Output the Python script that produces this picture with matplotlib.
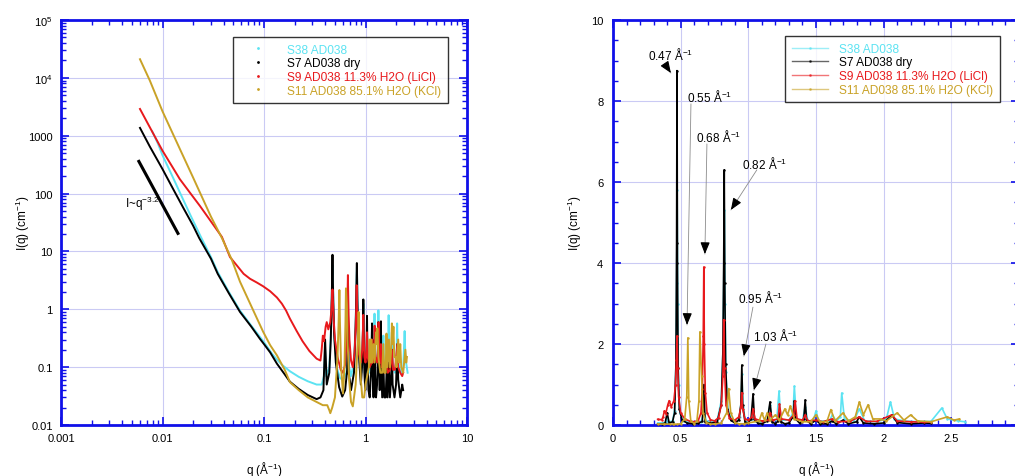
import numpy as np
import matplotlib
matplotlib.use("Agg")
import matplotlib.pyplot as plt
from matplotlib.lines import Line2D
from matplotlib.ticker import FixedLocator, MultipleLocator, LogLocator, NullFormatter

plt.rcParams['font.family'] = ['Liberation Sans', 'DejaVu Sans']
plt.rcParams['mathtext.fontset'] = 'custom'
plt.rcParams['mathtext.rm'] = 'Liberation Sans'
plt.rcParams['mathtext.it'] = 'Liberation Sans:italic'

# ---------------- data ----------------
labels = ["S38 AD038", "S7 AD038 dry", "S9 AD038 11.3% H2O (LiCl)", "S11 AD038 85.1% H2O (KCl)"]
colors = ["#5CE3F2", "#000000", "#E8191C", "#C9A227"]

q_s38 = [0.0079, 0.009, 0.01, 0.0125, 0.015, 0.019, 0.024, 0.03, 0.035, 0.045, 0.058, 0.075, 0.1, 0.12,
         0.134, 0.15, 0.18, 0.22, 0.27, 0.33, 0.37, 0.39, 0.40, 0.41, 0.44, 0.455, 0.465, 0.47, 0.474,
         0.478, 0.484, 0.495, 0.52, 0.56, 0.6, 0.65, 0.675, 0.69, 0.72, 0.77, 0.80, 0.812, 0.818, 0.823,
         0.828, 0.834, 0.85, 0.88, 0.91, 0.935, 0.947, 0.953, 0.96, 0.98, 1.0, 1.025, 1.035, 1.05, 1.09,
         1.14, 1.16, 1.175, 1.21, 1.227, 1.24, 1.3, 1.33, 1.34, 1.355, 1.4, 1.42, 1.44, 1.48, 1.5, 1.52,
         1.6, 1.62, 1.65, 1.68, 1.69, 1.71, 1.78, 1.82, 1.86, 1.95, 2.02, 2.05, 2.08, 2.15, 2.25, 2.35,
         2.43, 2.47, 2.55, 2.6]
I_s38 = [1200, 735, 460, 200, 100, 41, 17.5, 8.0, 4.4, 2.0, 0.95, 0.52, 0.27, 0.17,
         0.135, 0.11, 0.085, 0.068, 0.057, 0.05, 0.05, 0.07, 0.2, 0.07, 0.1, 0.35, 1.5, 3.5, 5.8,
         3.0, 1.0, 0.3, 0.1, 0.065, 0.06, 0.08, 0.3, 0.1, 0.07, 0.12, 0.6, 1.8, 3.5, 5.3,
         3.0, 1.3, 0.35, 0.12, 0.08, 0.2, 0.6, 1.25, 0.45, 0.1, 0.08, 0.15, 0.35, 0.1, 0.08,
         0.12, 0.5, 0.1, 0.12, 0.84, 0.12, 0.12, 0.3, 0.96, 0.15, 0.12, 0.45, 0.1, 0.1, 0.35, 0.1,
         0.1, 0.25, 0.1, 0.2, 0.79, 0.15, 0.1, 0.4, 0.1, 0.08, 0.15, 0.57, 0.15, 0.1, 0.08, 0.09,
         0.42, 0.15, 0.1, 0.08]

q_s7 = [0.006, 0.0075, 0.01, 0.013, 0.016, 0.02, 0.023, 0.03, 0.035, 0.045, 0.058, 0.075, 0.091, 0.1,
        0.115, 0.134, 0.16, 0.18, 0.22, 0.27, 0.33, 0.36, 0.385, 0.40, 0.415, 0.44, 0.455, 0.465, 0.47,
        0.473, 0.476, 0.481, 0.49, 0.51, 0.55, 0.59, 0.63, 0.66, 0.672, 0.68, 0.70, 0.72, 0.77, 0.80,
        0.812, 0.818, 0.822, 0.826, 0.832, 0.845, 0.87, 0.9, 0.93, 0.945, 0.952, 0.958, 0.975, 0.995,
        1.02, 1.035, 1.045, 1.07, 1.1, 1.14, 1.16, 1.175, 1.2, 1.22, 1.23, 1.24, 1.27, 1.30, 1.33, 1.34,
        1.35, 1.38, 1.41, 1.42, 1.43, 1.46, 1.5, 1.53, 1.58, 1.62, 1.65, 1.7, 1.74, 1.8, 1.82, 1.85,
        1.93, 2.0, 2.06, 2.1, 2.2, 2.3, 2.35]
I_s7 = [1365, 650, 265, 112, 57, 28, 17, 7.5, 4.1, 1.9, 0.9, 0.5, 0.31, 0.25,
        0.18, 0.115, 0.075, 0.056, 0.042, 0.033, 0.028, 0.03, 0.04, 0.3, 0.05, 0.08, 0.3, 1.5, 4.5,
        8.75, 4.0, 1.4, 0.4, 0.12, 0.045, 0.031, 0.04, 0.09, 1.0, 0.08, 0.06, 0.04, 0.08, 0.5,
        1.8, 4.0, 6.3, 3.5, 1.5, 0.4, 0.12, 0.05, 0.12, 0.5, 1.48, 0.5, 0.08, 0.04,
        0.15, 0.77, 0.15, 0.04, 0.03, 0.1, 0.57, 0.08, 0.03, 0.1, 0.3, 0.08, 0.03, 0.05, 0.2, 0.6,
        0.15, 0.04, 0.15, 0.62, 0.12, 0.03, 0.12, 0.03, 0.03, 0.1, 0.03, 0.12, 0.03, 0.08, 0.2, 0.05,
        0.03, 0.05, 0.25, 0.06, 0.03, 0.05, 0.04]

q_s9 = [0.006, 0.0075, 0.01, 0.0125, 0.0148, 0.019, 0.0234, 0.03, 0.0385, 0.0462, 0.055, 0.063,
        0.0728, 0.085, 0.098, 0.115, 0.134, 0.15, 0.165, 0.18, 0.21, 0.24, 0.28, 0.33, 0.36, 0.37,
        0.38, 0.39, 0.405, 0.415, 0.43,
        0.45, 0.462, 0.468, 0.473, 0.478, 0.485, 0.5, 0.53, 0.57, 0.6, 0.63, 0.65, 0.66, 0.667, 0.671,
        0.675, 0.682, 0.695, 0.72, 0.75, 0.78, 0.8, 0.812, 0.818, 0.824, 0.835, 0.86, 0.9, 0.93, 0.945,
        0.951, 0.958, 0.975, 1.0, 1.025, 1.035, 1.05, 1.1, 1.15, 1.16, 1.18, 1.22, 1.23, 1.245, 1.3,
        1.335, 1.345, 1.36, 1.4, 1.42, 1.44, 1.5, 1.55, 1.62, 1.66, 1.75, 1.82, 1.87, 1.95, 2.06, 2.1,
        2.2, 2.3, 2.35]
I_s9 = [2900, 1400, 550, 290, 178, 99, 61, 33, 17.8, 8.0, 5.5, 4.1,
        3.37, 2.9, 2.5, 2.05, 1.6, 1.25, 0.95, 0.69, 0.42, 0.28, 0.19, 0.14, 0.13, 0.2,
        0.35, 0.28, 0.5, 0.6, 0.45,
        0.6, 1.0, 1.6, 2.2, 1.4, 0.7, 0.3, 0.15, 0.09, 0.08, 0.11, 0.3, 0.9, 2.2, 3.9,
        2.0, 0.8, 0.3, 0.13, 0.1, 0.18, 0.5, 1.2, 2.6, 1.4, 0.5, 0.17, 0.12, 0.2, 0.45,
        0.8, 0.4, 0.15, 0.12, 0.2, 0.4, 0.15, 0.1, 0.12, 0.3, 0.12, 0.15, 0.52, 0.15, 0.12,
        0.25, 0.6, 0.15, 0.12, 0.25, 0.1, 0.12, 0.08, 0.15, 0.08, 0.09, 0.2, 0.09, 0.09, 0.25, 0.1,
        0.08, 0.07, 0.08]

q_s11 = [0.006, 0.0075, 0.01, 0.015, 0.02, 0.03, 0.0385, 0.048, 0.058, 0.075, 0.098, 0.115, 0.134, 0.16,
         0.18, 0.22, 0.27, 0.33, 0.38, 0.42, 0.44, 0.45, 0.47, 0.5, 0.53, 0.545, 0.553, 0.56, 0.575, 0.6,
         0.62, 0.635, 0.642, 0.655, 0.665, 0.69, 0.72, 0.75, 0.8, 0.84, 0.855, 0.87, 0.9, 0.93, 0.97,
         1.0, 1.08, 1.1, 1.12, 1.14, 1.16, 1.2, 1.23, 1.27, 1.29, 1.31, 1.34, 1.4, 1.46, 1.5, 1.53, 1.58,
         1.61, 1.64, 1.7, 1.74, 1.79, 1.82, 1.85, 1.885, 1.92, 1.97, 2.02, 2.1, 2.15, 2.2, 2.25, 2.35,
         2.47, 2.52, 2.56]
I_s11 = [21000, 9000, 2640, 565, 190, 40, 17, 7.3, 3.0, 1.13, 0.41, 0.24, 0.16, 0.09,
         0.055, 0.04, 0.03, 0.025, 0.022, 0.022, 0.018, 0.016, 0.02, 0.03, 0.15, 0.7, 2.15, 0.6, 0.1, 0.035,
         0.1, 0.6, 2.3, 1.2, 0.3, 0.06, 0.025, 0.021, 0.05, 0.3, 0.9, 0.3, 0.06, 0.03, 0.03,
         0.05, 0.1, 0.3, 0.12, 0.3, 0.12, 0.25, 0.12, 0.4, 0.25, 0.47, 0.15, 0.08, 0.08, 0.25, 0.08, 0.08,
         0.38, 0.1, 0.3, 0.1, 0.2, 0.57, 0.25, 0.5, 0.15, 0.15, 0.1, 0.3, 0.12, 0.25, 0.1, 0.08,
         0.2, 0.12, 0.15]

# power-law guide line I ~ q^-3.2
q_guide = [0.00585, 0.0142]
I_guide = [360, 20.5]

# the linear (WAXS) panel shows only the wide-angle part of each curve
q_min_linear = 0.3

series_q = [q_s38, q_s7, q_s9, q_s11]
series_I = [I_s38, I_s7, I_s9, I_s11]

left_yticks = [0.01, 0.1, 1, 10, 100, 1000, 1e4, 1e5]
left_ytlabels = ['0.01', '0.1', '1', '10', '100', '1000', '10$^4$', '10$^5$']
left_xticks = [0.001, 0.01, 0.1, 1, 10]
left_xtlabels = ['0.001', '0.01', '0.1', '1', '10']
right_xticks = [0, 0.5, 1, 1.5, 2, 2.5]
right_xtlabels = ['0', '0.5', '1', '1.5', '2', '2.5']
right_yticks = [0, 2, 4, 6, 8, 10]

peak_labels = ['0.47 Å$^{-1}$', '0.55 Å$^{-1}$', '0.68 Å$^{-1}$', '0.82 Å$^{-1}$',
               '0.95 Å$^{-1}$', '1.03 Å$^{-1}$']

# ---------------- figure ----------------
W, H = 1015, 477
fig = plt.figure(figsize=(W / 100, H / 100), dpi=100)
axL = fig.add_axes([61 / W, 1 - 426 / H, 406 / W, 405 / H])
axR = fig.add_axes([613 / W, 1 - 426 / H, 406 / W, 405 / H])

blue = '#1010E8'
gridc = '#CACAF4'

def style(ax):
    for s in ax.spines.values():
        s.set_color(blue)
        s.set_linewidth(2.0)
    ax.tick_params(which='both', direction='in', top=True, right=True, color=blue,
                   labelsize=8, labelcolor='black')
    ax.tick_params(which='major', length=6, width=1.2)
    ax.tick_params(which='minor', length=3.5, width=1.0)
    ax.grid(True, which='major', color=gridc, lw=0.8)
    ax.set_axisbelow(True)

# ---- left: log-log ----
for q, I, c in zip(series_q, series_I, colors):
    axL.plot(q, I, color=c, lw=1.4, zorder=3)
axL.plot(q_guide, I_guide, color='black', lw=2.2, zorder=4)
axL.text(0.0043, 69, 'I~q$^{-3.2}$', fontsize=8.5, ha='left', va='center')
axL.set_xscale('log')
axL.set_yscale('log')
axL.set_xlim(0.001, 10)
axL.set_ylim(0.01, 1e5)
axL.xaxis.set_major_locator(FixedLocator(left_xticks))
axL.set_xticklabels(left_xtlabels)
axL.yaxis.set_major_locator(FixedLocator(left_yticks))
axL.set_yticklabels(left_ytlabels)
axL.xaxis.set_minor_locator(LogLocator(base=10, subs=np.arange(2, 10), numticks=20))
axL.yaxis.set_minor_locator(LogLocator(base=10, subs=np.arange(2, 10), numticks=20))
axL.xaxis.set_minor_formatter(NullFormatter())
axL.yaxis.set_minor_formatter(NullFormatter())
style(axL)
axL.tick_params(axis='x', pad=6)
axL.tick_params(axis='y', pad=6)
axL.set_xlabel('q (Å$^{-1}$)', fontsize=8.5, labelpad=11)
axL.set_ylabel('I(q) (cm$^{-1}$)', fontsize=8.5, labelpad=-3)

handlesL = [Line2D([], [], ls='none', marker='.', ms=2, color=c) for c in colors]
legL = axL.legend(handlesL, labels, loc='upper left', bbox_to_anchor=(0.424, 0.958),
                  fontsize=8.6, frameon=True, fancybox=False, edgecolor='black',
                  handlelength=3.0, handletextpad=1.0, labelspacing=0.14, borderpad=0.55,
                  borderaxespad=0)
legL.get_frame().set_linewidth(1.0)
for t, c in zip(legL.get_texts(), colors):
    t.set_color(c)

# ---- right: linear ----
for q, I, c in zip(series_q, series_I, colors):
    qq = [a for a in q if a >= q_min_linear]
    II = [b for a, b in zip(q, I) if a >= q_min_linear]
    axR.plot(qq, II, color=c, lw=1.2, marker='.', ms=1.5, zorder=3)
axR.set_xlim(0, 3)
axR.set_ylim(0, 10)
axR.xaxis.set_major_locator(FixedLocator(right_xticks))
axR.set_xticklabels(right_xtlabels)
axR.yaxis.set_major_locator(FixedLocator(right_yticks))
axR.xaxis.set_minor_locator(MultipleLocator(0.1))
axR.yaxis.set_minor_locator(MultipleLocator(0.5))
style(axR)
axR.tick_params(axis='x', pad=6)
axR.tick_params(axis='y', pad=7)
axR.set_xlabel('q (Å$^{-1}$)', fontsize=8.5, labelpad=11)
axR.set_ylabel('I(q) (cm$^{-1}$)', fontsize=8.5, labelpad=5)

handlesR = [Line2D([], [], lw=1.0, marker='.', ms=2, color=c) for c in colors]
legR = axR.legend(handlesR, labels, loc='upper left', bbox_to_anchor=(0.424, 0.960),
                  fontsize=8.6, frameon=True, fancybox=False, edgecolor='black',
                  handlelength=3.0, handletextpad=1.0, labelspacing=0.14, borderpad=0.55,
                  borderaxespad=0)
legR.get_frame().set_linewidth(1.0)
for t, c in zip(legR.get_texts(), colors):
    t.set_color(c)
for ln in legR.get_lines():
    ln.set_alpha(0.6)

# peak annotations: text position, line start, arrow tip (data coords)
ann = [((0.258, 9.16), (0.384, 8.91), (0.428, 8.69)),
       ((0.547, 8.12), (0.576, 7.93), (0.547, 2.47)),
       ((0.613, 7.14), (0.694, 6.94), (0.679, 4.22)),
       ((0.953, 6.47), (1.063, 6.30), (0.871, 5.31)),
       ((0.923, 3.16), (1.034, 2.91), (0.967, 1.70)),
       ((1.034, 2.22), (1.130, 2.00), (1.041, 0.86))]
fig.canvas.draw()
for lab, (tp, sp, tip) in zip(peak_labels, ann):
    axR.text(tp[0], tp[1], lab, fontsize=8.5, ha='left', va='center', zorder=6)
    axR.annotate('', xy=tip, xytext=sp,
                 arrowprops=dict(arrowstyle='-', color='0.55', lw=0.6, shrinkA=0, shrinkB=0),
                 zorder=6)
    p0 = axR.transData.transform(sp)
    p1 = axR.transData.transform(tip)
    d = p0 - p1
    d = d / np.hypot(*d) * 9 * 72 / 100
    axR.annotate('', xy=tip, xytext=(d[0], d[1]), textcoords='offset points',
                 arrowprops=dict(arrowstyle='-|>,head_length=0.7,head_width=0.28',
                                 color='black', lw=0.8, shrinkA=0, shrinkB=0),
                 zorder=7)

fig.savefig('out.png', dpi=100)
